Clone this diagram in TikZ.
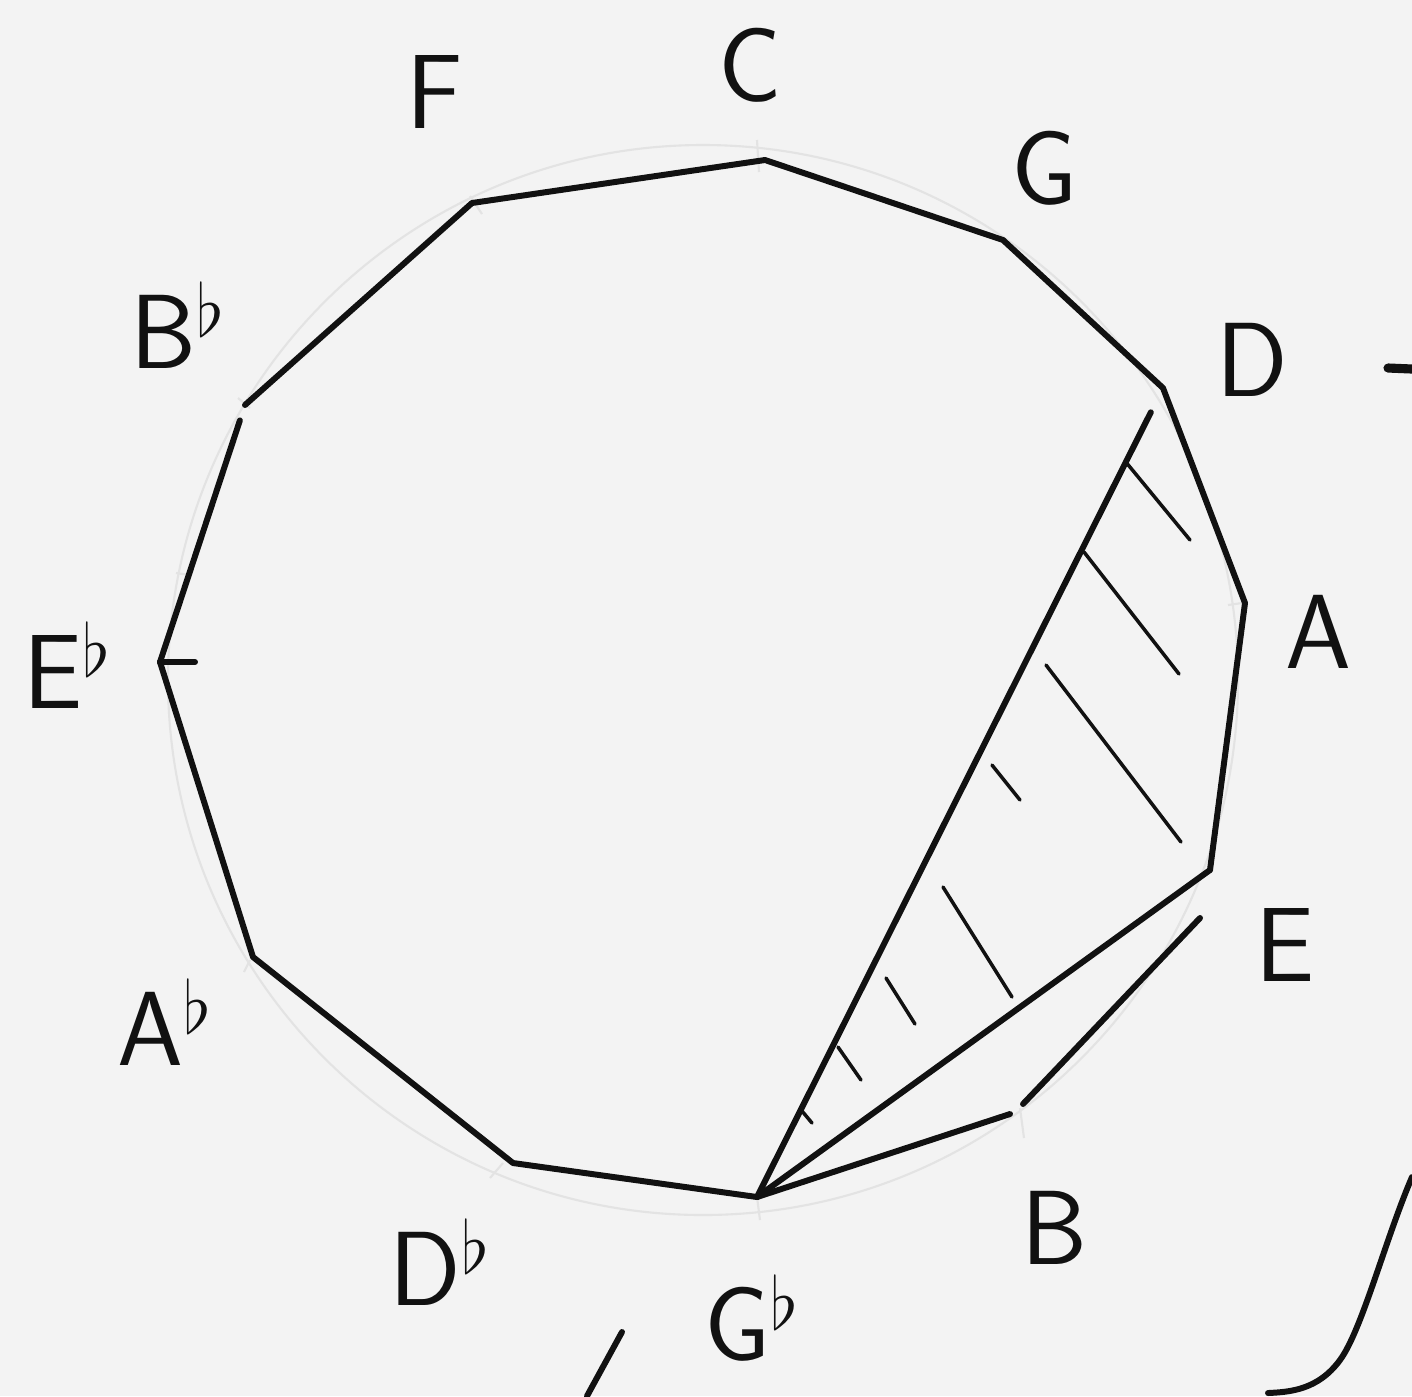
\documentclass[tikz,border=0pt]{standalone}
\usepackage{amsmath,amssymb}
\usepackage{tikz}
\usetikzlibrary{positioning,calc}
\definecolor{paper}{RGB}{243,243,243}
\definecolor{ink}{RGB}{17,17,17}

\begin{document}
\begin{tikzpicture}[x=0.01cm,y=-0.01cm,
  edge/.style={draw=ink,line width=1.7pt,line cap=round,line join=round},
  hatch/.style={draw=ink,line width=1pt,line cap=round},
  pencil/.style={draw=black!11,line width=0.6pt},
  note/.style={font=\fontsize{30}{34}\selectfont\sffamily,text=ink,inner sep=0pt}]

 % sheet
 \fill[paper] (0,0) rectangle (1412,1396);
 \useasboundingbox (0,0) rectangle (1412,1396);

 % pencil circle underneath
 \draw[pencil] (703,680) circle (535);

 % the twelve keys, circle of fifths
 \coordinate (C)  at (765,160);
 \coordinate (G)  at (1003,240);
 \coordinate (D)  at (1163,388);
 \coordinate (A)  at (1245,603);
 \coordinate (E)  at (1210,870);
 \coordinate (B)  at (1020,1110);
 \coordinate (Gb) at (757,1197);
 \coordinate (Db) at (513,1163);
 \coordinate (Ab) at (253,957);
 \coordinate (Eb) at (160,662);
 \coordinate (Bb) at (245,405);
 \coordinate (F)  at (472,203);

 % pencil ticks at the keys
 \draw[pencil] (757,140) -- (759,172);
 \draw[pencil] (470,196) -- (482,214);
 \draw[pencil] (238,398) -- (250,408);
 \draw[pencil] (176,573) -- (190,575);
 \draw[pencil] (250,960) -- (244,972);
 \draw[pencil] (503,1163) -- (490,1178);
 \draw[pencil] (757,1197) -- (760,1220);
 \draw[pencil] (1020,1108) -- (1024,1138);
 \draw[pencil] (1242,603) -- (1228,605);

 % dodecagon
 \draw[edge] (Bb) -- (F) -- (C) -- (G) -- (D) -- (A) -- (E);
 \draw[edge] (Gb) -- (Db) -- (Ab) -- (Eb);
 \draw[edge] (Eb) -- ($(Eb)!0.94!(Bb)$);
 \draw[edge] (Eb) -- ++(35,0);
 \draw[edge] ($(E)+(-10,48)$) -- ($(B)+(3,-6)$);
 \draw[edge] ($(B)+(-10,4)$) -- (Gb);

 % chords from Gb
 \draw[edge] (Gb) -- ($(Gb)!0.97!(D)$);
 \draw[edge] (Gb) -- (E);

 % hatching of the triangle
 \draw[hatch] (1125,461) -- (1190,540);
 \draw[hatch] (1084,552) -- (1179,674);
 \draw[hatch] (1046,665) -- (1181,842);
 \draw[hatch] (992,765) -- (1020,800);
 \draw[hatch] (943,887) -- (1012,997);
 \draw[hatch] (886,978) -- (915,1024);
 \draw[hatch] (838,1047) -- (861,1080);
 \draw[hatch] (802,1111) -- (812,1123);

 % key names
 \node[note] (lC)  at (750,65)   {C};
 \node[note] (lG)  at (1045,168) {G};
 \node[note] (lD)  at (1252,360) {D};
 \node[note] (lA)  at (1318,632) {A};
 \node[note] (lE)  at (1285,945) {E};
 \node[note] (lB)  at (1055,1228) {B};
 \node[note] (lGb) at (752,1318) {G$^{\flat}$};
 \node[note] (lDb) at (440,1262) {D$^{\flat}$};
 \node[note] (lAb) at (165,1022) {A$^{\flat}$};
 \node[note] (lEb) at (68,665)   {E$^{\flat}$};
 \node[note] (lBb) at (178,325)  {B$^{\flat}$};
 \node[note] (lF)  at (435,92)   {F};

 % strokes running off the sheet
 \draw[edge,line width=2.6pt] (1388,368) -- (1412,369);
 \draw[edge] (1412,1177) .. controls (1385,1240) and (1362,1330) .. (1340,1360)
   .. controls (1318,1390) and (1290,1392) .. (1268,1393);
 \draw[edge] (622,1332) -- (587,1396);
\end{tikzpicture}
\end{document}
